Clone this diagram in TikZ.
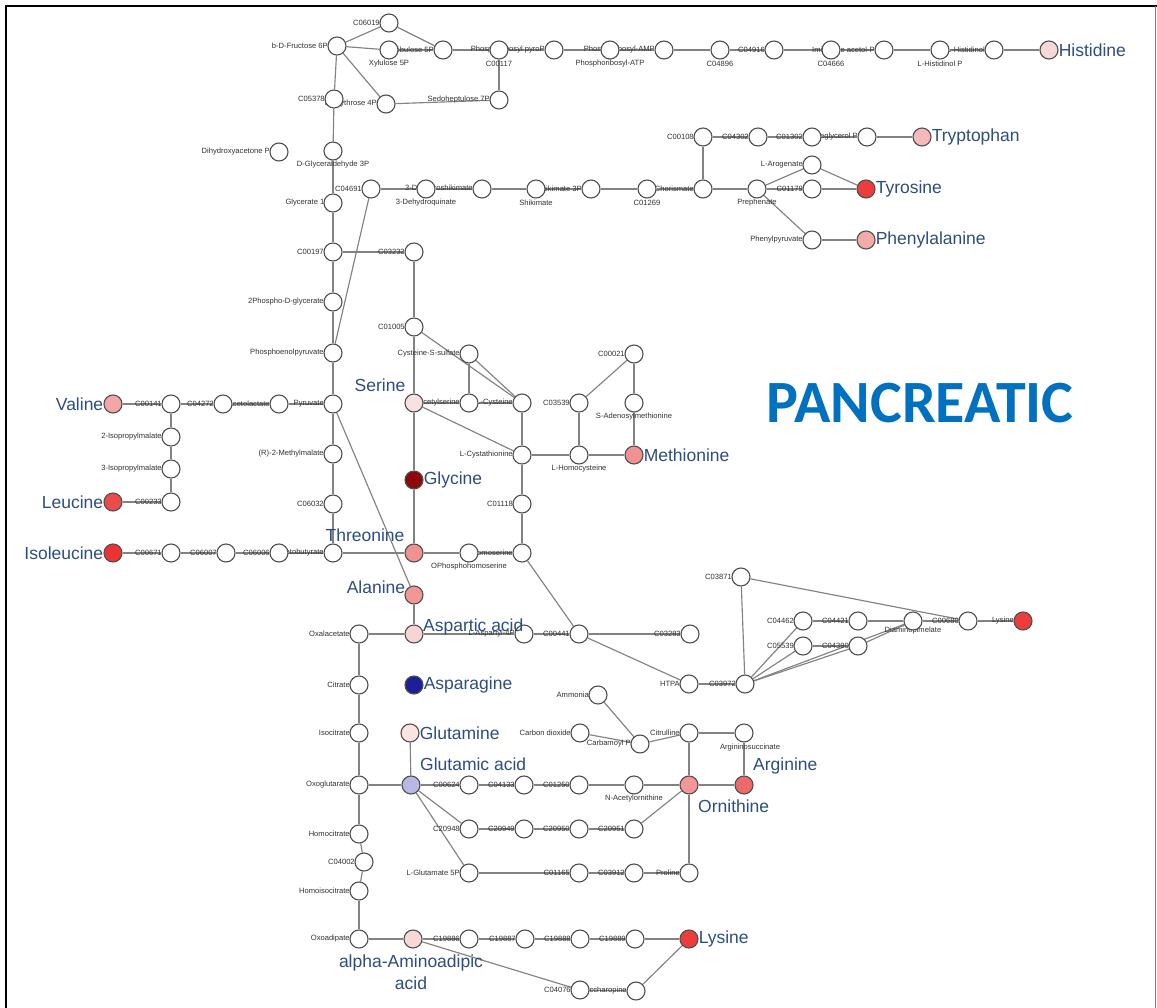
\documentclass[tikz,border=0pt]{standalone}
\usepackage{fontspec}
\setmainfont{Liberation Sans}
\newfontfamily\calfont{Carlito}
\pgfdeclarelayer{back}
\pgfdeclarelayer{bg}
\pgfsetlayers{back,bg,main}
\definecolor{edgec}{RGB}{130,130,130}
\definecolor{ndraw}{RGB}{80,80,80}
\definecolor{labc}{RGB}{50,50,50}
\definecolor{bigc}{RGB}{45,78,128}
\definecolor{pancblue}{RGB}{0,112,192}
\definecolor{cHis}{RGB}{248,216,214}
\definecolor{cTrp}{RGB}{245,185,185}
\definecolor{cTyr}{RGB}{236,60,60}
\definecolor{cPhe}{RGB}{243,170,170}
\definecolor{cVal}{RGB}{244,165,165}
\definecolor{cLeu}{RGB}{236,75,75}
\definecolor{cIle}{RGB}{236,50,50}
\definecolor{cSer}{RGB}{248,225,225}
\definecolor{cGly}{RGB}{140,10,10}
\definecolor{cThr}{RGB}{242,145,145}
\definecolor{cMet}{RGB}{242,145,145}
\definecolor{cAla}{RGB}{242,150,150}
\definecolor{cAsp}{RGB}{248,212,212}
\definecolor{cAsn}{RGB}{30,30,150}
\definecolor{cGln}{RGB}{250,228,226}
\definecolor{cGlu}{RGB}{184,184,230}
\definecolor{cOrn}{RGB}{242,150,150}
\definecolor{cArg}{RGB}{238,105,105}
\definecolor{cLys}{RGB}{236,60,60}
\definecolor{cAaa}{RGB}{248,216,214}
\newcommand{\lblL}[2]{\node[lab,anchor=east] (t#1) at ([xshift=0.5pt]#1.west) {#2};}
\newcommand{\lblB}[2]{\node[lab] (t#1) at ([yshift=-14pt]#1.center) {#2};}
\begin{document}
\begin{tikzpicture}[x=1pt,y=-1pt,
  n/.style={circle,draw=ndraw,line width=1.15pt,fill=white,minimum size=18pt,inner sep=0pt},
  lab/.style={font=\fontsize{7.6}{8}\selectfont,text=labc,inner sep=0pt},
  big/.style={font=\fontsize{17.5}{20}\selectfont,text=bigc,inner sep=0pt},
  edge/.style={draw=edgec,line width=1.15pt}]
\useasboundingbox (0,0) rectangle (1157,1008);
\begin{pgfonlayer}{back}
\fill[white] (0,0) rectangle (1157,1008);
\end{pgfonlayer}
\draw[line width=2.2pt,black] (6,1008) -- (6,6) -- (1157,6);
\draw[line width=1pt,gray] (1155.5,6) -- (1155.5,1008);

% ---------- nodes ----------
\node[n] (fru) at (337,46) {};
\node[n] (c06019) at (389,23) {};
\node[n] (xyl) at (389,50) {};
\node[n] (rib) at (443,50) {};
\node[n] (c00117) at (499,50) {};
\node[n] (prpp) at (554,50) {};
\node[n] (prat) at (610,50) {};
\node[n] (pramp) at (664,50) {};
\node[n] (c04896) at (720,50) {};
\node[n] (c04916) at (774,50) {};
\node[n] (c04666) at (831,50) {};
\node[n] (imac) at (884,50) {};
\node[n] (hisp) at (940,50) {};
\node[n] (hisol) at (994,50) {};
\node[n,fill=cHis] (his) at (1049,50) {};
\node[n] (ery) at (386,104) {};
\node[n] (c05378) at (334,99) {};
\node[n] (sed) at (499,100) {};
\node[n] (dhap) at (279,152) {};
\node[n] (gap) at (333,151) {};
\node[n] (c04691) at (371,189) {};
\node[n] (dhq) at (426,189) {};
\node[n] (dhs) at (482,189) {};
\node[n] (shk) at (536,189) {};
\node[n] (s3p) at (591,189) {};
\node[n] (c01269) at (647,189) {};
\node[n] (cho) at (703,189) {};
\node[n] (pre) at (757,189) {};
\node[n] (c01179) at (812,189) {};
\node[n,fill=cTyr] (tyr) at (866,189) {};
\node[n] (aro) at (812,165) {};
\node[n] (c00108) at (703,137) {};
\node[n] (c04302) at (758,137) {};
\node[n] (c01302) at (812,137) {};
\node[n] (igp) at (867,137) {};
\node[n,fill=cTrp] (trp) at (922,137) {};
\node[n] (ppy) at (812,240) {};
\node[n,fill=cPhe] (phe) at (866,240) {};
\node[n] (g13p) at (333,203) {};
\node[n] (c00197) at (333,252) {};
\node[n] (c03232) at (414,252) {};
\node[n] (p2g) at (333,302) {};
\node[n] (c01005) at (414,327) {};
\node[n] (pep) at (333,353) {};
\node[n] (css) at (469,354) {};
\node[n] (c00021) at (634,354) {};
\node[n] (pyr) at (333,404) {};
\node[n,fill=cVal] (val) at (113,404) {};
\node[n] (c00141) at (171,404) {};
\node[n] (c04272) at (223,404) {};
\node[n] (acl) at (279,404) {};
\node[n,fill=cSer] (ser) at (414,403) {};
\node[n] (oas) at (469,403) {};
\node[n] (cys) at (522,403) {};
\node[n] (c03539) at (579,403) {};
\node[n] (sam) at (634,403) {};
\node[n] (ipm2) at (171,437) {};
\node[n] (ipm3) at (171,469) {};
\node[n] (mm) at (333,454) {};
\node[n] (cth) at (522,455) {};
\node[n] (hcy) at (579,455) {};
\node[n,fill=cMet] (met) at (634,455) {};
\node[n,fill=cGly] (gly) at (414,480) {};
\node[n,fill=cLeu] (leu) at (113,502) {};
\node[n] (c00233) at (171,502) {};
\node[n] (c06032) at (333,504) {};
\node[n] (c01118) at (522,504) {};
\node[n,fill=cIle] (ile) at (113,553) {};
\node[n] (c00671) at (171,553) {};
\node[n] (c06007) at (226,553) {};
\node[n] (c06006) at (279,553) {};
\node[n] (kb) at (333,553) {};
\node[n,fill=cThr] (thr) at (414,553) {};
\node[n] (oph) at (469,553) {};
\node[n] (hse) at (522,553) {};
\node[n,fill=cAla] (ala) at (414,595) {};
\node[n] (c03871) at (741,577) {};
\node[n] (c04462) at (803,621) {};
\node[n] (c04421) at (858,621) {};
\node[n] (dap) at (913,621) {};
\node[n] (c00680) at (968,621) {};
\node[n,fill=cLys] (lys1) at (1023,621) {};
\node[n] (c05539) at (803,646) {};
\node[n] (c04390) at (858,646) {};
\node[n] (oaa) at (359,634) {};
\node[n,fill=cAsp] (asp) at (414,634) {};
\node[n] (asp4p) at (524,634) {};
\node[n] (c00441) at (579,634) {};
\node[n] (c03283) at (690,634) {};
\node[n] (cit) at (359,685) {};
\node[n,fill=cAsn] (asn) at (414,685) {};
\node[n] (htpa) at (689,684) {};
\node[n] (c03972) at (745,684) {};
\node[n] (nh3) at (598,695) {};
\node[n] (icit) at (359,733) {};
\node[n,fill=cGln] (gln) at (410,733) {};
\node[n] (co2) at (580,733) {};
\node[n] (cbp) at (640,744) {};
\node[n] (citr) at (689,733) {};
\node[n] (asuc) at (744,733) {};
\node[n] (akg) at (359,785) {};
\node[n,fill=cGlu] (glu) at (411,785) {};
\node[n] (c00624) at (469,785) {};
\node[n] (c04133) at (524,785) {};
\node[n] (c01250) at (579,785) {};
\node[n] (nao) at (634,785) {};
\node[n,fill=cOrn] (orn) at (689,785) {};
\node[n,fill=cArg] (arg) at (744,785) {};
\node[n] (hcit) at (359,834) {};
\node[n] (c20948) at (469,829) {};
\node[n] (c20949) at (524,829) {};
\node[n] (c20950) at (579,829) {};
\node[n] (c20951) at (634,829) {};
\node[n] (c04002) at (364,862) {};
\node[n] (g5p) at (469,873) {};
\node[n] (c01165) at (579,873) {};
\node[n] (c03912) at (634,873) {};
\node[n] (pro) at (689,873) {};
\node[n] (hicit) at (359,891) {};
\node[n] (oxad) at (359,939) {};
\node[n,fill=cAaa] (aaa) at (413,939) {};
\node[n] (c19886) at (469,939) {};
\node[n] (c19887) at (525,939) {};
\node[n] (c19888) at (580,939) {};
\node[n] (c19889) at (635,939) {};
\node[n,fill=cLys] (lys2) at (689,939) {};
\node[n] (c04076) at (580,990) {};
\node[n] (sac) at (636,991) {};

% ---------- edges and small labels (behind nodes) ----------
\begin{pgfonlayer}{bg}
\foreach \a/\b in {fru/c06019,fru/xyl,fru/ery,fru/c05378,c06019/rib,xyl/rib,rib/c00117,
  c00117/prpp,prpp/prat,prat/pramp,pramp/c04896,c04896/c04916,c04916/c04666,c04666/imac,
  imac/hisp,hisp/hisol,hisol/his,c00117/sed,ery/sed,c05378/gap,gap/g13p,g13p/c00197,
  c00197/p2g,p2g/pep,pep/pyr,pyr/mm,mm/c06032,c06032/kb,c04691/pep,c04691/dhq,dhq/dhs,
  dhs/shk,shk/s3p,s3p/c01269,c01269/cho,cho/pre,pre/c01179,c01179/tyr,pre/aro,aro/tyr,
  pre/ppy,ppy/phe,cho/c00108,c00108/c04302,c04302/c01302,c01302/igp,igp/trp,
  c00197/c03232,c03232/c01005,c01005/ser,c01005/cys,css/cys,css/oas,ser/oas,oas/cys,
  ser/cth,cys/cth,cth/hcy,hcy/met,hcy/c03539,c03539/c00021,c00021/sam,sam/met,
  cth/c01118,c01118/hse,ser/gly,gly/thr,thr/oph,oph/hse,kb/thr,pyr/ala,ala/asp,
  val/c00141,c00141/c04272,c04272/acl,acl/pyr,c00141/ipm2,ipm2/ipm3,ipm3/c00233,
  c00233/leu,ile/c00671,c00671/c06007,c06007/c06006,c06006/kb,
  hse/c00441,oaa/asp,asp/asp4p,asp4p/c00441,c00441/c03283,c00441/htpa,htpa/c03972,
  c03972/c03871,c03871/c00680,c03972/c04462,c03972/c05539,c03972/c04390,c03972/dap,
  c04462/c04421,c04421/dap,dap/c00680,c00680/lys1,c05539/c04390,c04390/dap,
  oaa/cit,cit/icit,icit/akg,akg/hcit,hcit/c04002,c04002/hicit,hicit/oxad,akg/glu,
  gln/glu,glu/c00624,c00624/c04133,c04133/c01250,c01250/nao,nao/orn,orn/arg,
  glu/c20948,glu/g5p,c20948/c20949,c20949/c20950,c20950/c20951,c20951/orn,
  g5p/c01165,c01165/c03912,c03912/pro,pro/orn,orn/citr,citr/asuc,asuc/arg,
  nh3/cbp,co2/cbp,cbp/citr,
  oxad/aaa,aaa/c19886,c19886/c19887,c19887/c19888,c19888/c19889,c19889/lys2,
  aaa/c04076,c04076/sac,sac/lys2}
  \draw[edge] (\a) -- (\b);

\lblL{c06019}{C06019}
\lblL{fru}{b-D-Fructose 6P}
\lblB{xyl}{Xylulose 5P}
\lblL{rib}{Ribulose 5P}
\lblB{c00117}{C00117}
\lblL{prpp}{Phosphoribosyl pyroP}
\lblB{prat}{Phosphoribosyl-ATP}
\lblL{pramp}{Phosphoribosyl-AMP}
\lblB{c04896}{C04896}
\lblL{c04916}{C04916}
\lblB{c04666}{C04666}
\lblL{imac}{Imidazole acetol-P}
\lblB{hisp}{L-Histidinol P}
\lblL{hisol}{L-Histidinol}
\lblL{c05378}{C05378}
\lblL{ery}{D-Erythrose 4P}
\lblL{sed}{Sedoheptulose 7P}
\lblL{dhap}{Dihydroxyacetone P}
\lblB{gap}{D-Glyceraldehyde 3P}
\node[lab,anchor=east] (tg13p) at ([xshift=3pt]g13p.center) {Glycerate 1,3P};
\lblL{c04691}{C04691}
\lblB{dhq}{3-Dehydroquinate}
\lblL{dhs}{3-Dehydroshikimate}
\lblB{shk}{Shikimate}
\lblL{s3p}{Shikimate 3P}
\lblB{c01269}{C01269}
\lblL{cho}{Chorismate}
\lblB{pre}{Prephenate}
\lblL{c01179}{C01179}
\lblL{aro}{L-Arogenate}
\lblL{ppy}{Phenylpyruvate}
\lblL{c00108}{C00108}
\lblL{c04302}{C04302}
\lblL{c01302}{C01302}
\lblL{igp}{Indoleglycerol P}
\lblL{c00197}{C00197}
\lblL{c03232}{C03232}
\lblL{p2g}{2Phospho-D-glycerate}
\lblL{c01005}{C01005}
\lblL{pep}{Phosphoenolpyruvate}
\lblL{css}{Cysteine-S-sulfate}
\lblL{c00021}{C00021}
\lblL{c00141}{C00141}
\lblL{c04272}{C04272}
\lblL{acl}{2-Acetolactate}
\lblL{pyr}{Pyruvate}
\lblL{oas}{O-Acetylserine}
\lblL{cys}{L-Cysteine}
\lblL{c03539}{C03539}
\lblB{sam}{S-Adenosylmethionine}
\lblL{ipm2}{2-Isopropylmalate}
\lblL{ipm3}{3-Isopropylmalate}
\lblL{mm}{(R)-2-Methylmalate}
\lblL{cth}{L-Cystathionine}
\lblB{hcy}{L-Homocysteine}
\lblL{c00233}{C00233}
\lblL{c06032}{C06032}
\lblL{c01118}{C01118}
\lblL{c00671}{C00671}
\lblL{c06007}{C06007}
\lblL{c06006}{C06006}
\lblL{kb}{2-Ketobutyrate}
\lblB{oph}{OPhosphohomoserine}
\lblL{hse}{Homoserine}
\lblL{c03871}{C03871}
\lblL{c04462}{C04462}
\lblL{c04421}{C04421}
\node[lab] (tdap) at ([yshift=-10pt]dap.center) {Diaminopimelate};
\lblL{c00680}{C00680}
\lblL{lys1}{Lysine}
\lblL{c05539}{C05539}
\lblL{c04390}{C04390}
\lblL{oaa}{Oxalacetate}
\lblL{asp4p}{L-Aspartyl-4P}
\lblL{c00441}{C00441}
\lblL{c03283}{C03283}
\lblL{cit}{Citrate}
\lblL{htpa}{HTPA}
\lblL{c03972}{C03972}
\lblL{nh3}{Ammonia}
\lblL{icit}{Isocitrate}
\lblL{co2}{Carbon dioxide}
\lblL{cbp}{Carbamoyl P}
\lblL{citr}{Citrulline}
\node[lab] (tasuc) at ([yshift=-15pt,xshift=6pt]asuc.center) {Argininosuccinate};
\lblL{akg}{Oxoglutarate}
\lblL{c00624}{C00624}
\lblL{c04133}{C04133}
\lblL{c01250}{C01250}
\lblB{nao}{N-Acetylornithine}
\lblL{hcit}{Homocitrate}
\lblL{c20948}{C20948}
\lblL{c20949}{C20949}
\lblL{c20950}{C20950}
\lblL{c20951}{C20951}
\lblL{c04002}{C04002}
\lblL{g5p}{L-Glutamate 5P}
\lblL{c01165}{C01165}
\lblL{c03912}{C03912}
\lblL{pro}{Proline}
\lblL{hicit}{Homoisocitrate}
\lblL{oxad}{Oxoadipate}
\lblL{c19886}{C19886}
\lblL{c19887}{C19887}
\lblL{c19888}{C19888}
\lblL{c19889}{C19889}
\lblL{c04076}{C04076}
\lblL{sac}{Saccharopine}
\end{pgfonlayer}

% ---------- amino acid labels ----------
\node[big,anchor=west] (bhis) at (his.east) {Histidine};
\node[big,anchor=west] (btrp) at (trp.east) {Tryptophan};
\node[big,anchor=west] (btyr) at (tyr.east) {Tyrosine};
\node[big,anchor=west] (bphe) at (phe.east) {Phenylalanine};
\node[big,anchor=east] (bval) at (val.west) {Valine};
\node[big,anchor=east] (bleu) at (leu.west) {Leucine};
\node[big,anchor=east] (bile) at (ile.west) {Isoleucine};
\node[big] (bser) at (380,385) {Serine};
\node[big,anchor=west] (bgly) at (gly.east) {Glycine};
\node[big] (bthr) at (365,535) {Threonine};
\node[big,anchor=west] (bmet) at (met.east) {Methionine};
\node[big] (bala) at (376,587) {Alanine};
\node[big,anchor=west] (basp) at (423,627) {Aspartic acid};
\node[big,anchor=west] (basn) at (asn.east) {Asparagine};
\node[big,anchor=west] (bgln) at (gln.east) {Glutamine};
\node[big,anchor=west] (bglu) at (420,764) {Glutamic acid};
\node[big,anchor=west] (barg) at (753,766) {Arginine};
\node[big,anchor=west] (born) at (698,806) {Ornithine};
\node[big,anchor=west] (blys2) at (lys2.east) {Lysine};
\node[big,align=center,font=\fontsize{17.5}{22}\selectfont] (baaa) at (411,972) {alpha-Aminoadipic\\acid};

\node[font=\calfont\bfseries\fontsize{60}{62}\selectfont,text=pancblue,inner sep=0pt] (title) at (920,403) {PANCREATIC};
\end{tikzpicture}
\end{document}
